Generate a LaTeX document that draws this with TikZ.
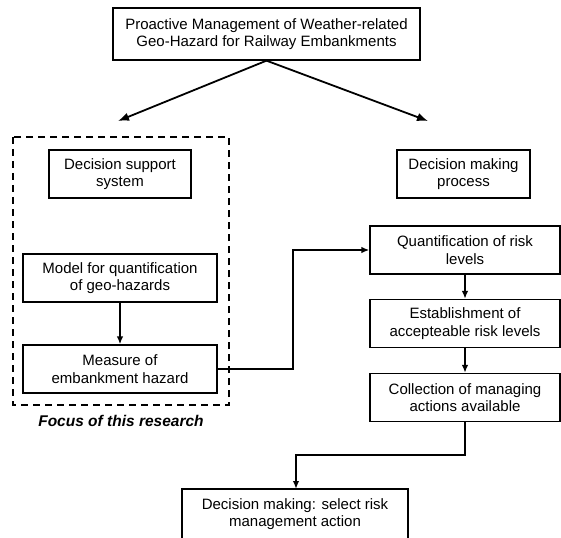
\documentclass[tikz,border=0pt]{standalone}
\usepackage{fontspec}
\setmainfont{Liberation Sans}
\usetikzlibrary{calc,arrows.meta,positioning}

\begin{document}
\begin{tikzpicture}[x=1pt,y=-1pt,font=\fontsize{15}{17.5}\selectfont,
  box/.style={draw,line width=1.3pt,align=center,inner sep=2pt},
  link/.style={line width=1.6pt,-{Latex[length=8pt,width=6.5pt]}},
  branch/.style={line width=1.8pt,-{Latex[length=11pt,width=8.5pt]}},
  focus/.style={draw,line width=2pt,dash pattern=on 7pt off 5pt}]
  \useasboundingbox (0,0) rectangle (561,537);

  \node[box,minimum width=307pt,minimum height=52pt] (top) at (266.5,34)
    {Proactive Management of Weather-related\\Geo-Hazard for Railway Embankments};

  \coordinate (dl) at (118,121);
  \coordinate (dr) at (428,121);
  \draw[branch] (top.south) -- (dl);
  \draw[branch] (top.south) -- (dr);

  % left column
  \draw[focus] (13,137) rectangle (229,405);
  \node[box,minimum width=142pt,minimum height=48pt] (dss) at (120,174)
    {Decision support\\system};
  \node[box,minimum width=194pt,minimum height=48pt] (mod) at (120,278)
    {Model for quantification\\of geo-hazards};
  \node[box,minimum width=194pt,minimum height=48pt] (meas) at (120,369)
    {Measure of\\embankment hazard};
  \node[font=\fontsize{15.5}{17}\selectfont\bfseries\itshape] (foc) at (121,421)
    {Focus of this research};

  % right column
  \node[box,minimum width=133pt,minimum height=48pt] (dmp) at (463.5,174)
    {Decision making\\process};
  \node[box,minimum width=190pt,minimum height=48pt] (quant) at (465,250)
    {Quantification of risk\\levels};
  \node[box,minimum width=190pt,minimum height=48pt] (est) at (465,323.5)
    {Establishment of\\accepteable risk levels};
  \node[box,minimum width=190pt,minimum height=48pt] (coll) at (465,397.5)
    {Collection of managing\\actions available};

  \node[box,minimum width=226pt,minimum height=50pt] (dec) at (295,514)
    {Decision making: select risk\\management action};

  \draw[link] (mod) -- (meas);
  \draw[link] (quant) -- (est);
  \draw[link] (est) -- (coll);
  \draw[link] (meas.east) -- (293,369) -- (293,250) -- (quant.west);
  \draw[link] (coll.south) -- (465,455) -- (296,455) -- (296,489);
\end{tikzpicture}
\end{document}
